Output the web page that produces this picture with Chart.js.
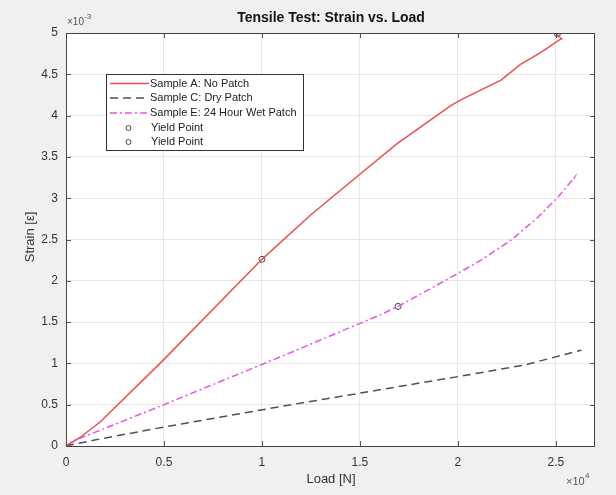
<!DOCTYPE html>
<html>
<head>
<meta charset="utf-8">
<script src="https://cdn.jsdelivr.net/npm/chart.js@4.4.0/dist/chart.umd.min.js"></script>
<style>
  html, body { margin: 0; padding: 0; background: #f0f0f0; }
  #wrap { width: 616px; height: 495px; }
</style>
</head>
<body>
<div id="wrap"><canvas id="chart" width="616" height="495"></canvas></div>
<script>
// load in N, strain in units of 1e-3 (as on the axis)
const loadA   = [0, 700, 1740, 4800, 10000, 12500, 15000, 16900, 19640, 20150, 22200, 23200, 24200, 25200, 25300, 25150, 25050];
const strainA = [0, 0.10, 0.29, 1.00, 2.26, 2.80, 3.29, 3.66, 4.12, 4.19, 4.43, 4.62, 4.76, 4.92, 4.93, 4.96, 4.99];

const loadC   = [0, 1400, 5000, 11000, 16000, 20000, 23400, 26300];
const strainC = [0, 0.07, 0.23, 0.48, 0.68, 0.84, 0.98, 1.16];

const loadE   = [0, 360, 5000, 10950, 16060, 16950, 19100, 20000, 21180, 22700, 24000, 25100, 25950, 25850];
const strainE = [0, 0.06, 0.50, 1.08, 1.59, 1.69, 1.97, 2.09, 2.25, 2.49, 2.75, 3.01, 3.25, 3.20];

const yieldLoad1   = [10000, 25080];
const yieldStrain1 = [2.26, 4.99];
const yieldLoad2   = [16950];
const yieldStrain2 = [1.69];

const xTicks = [0, 5000, 10000, 15000, 20000, 25000];
const yTicks = [0, 0.5, 1, 1.5, 2, 2.5, 3, 3.5, 4, 4.5, 5];

function pts(xs, ys) {
    return xs.map((x, i) => ({ x: x, y: ys[i] }));
}

function lineSet(label, xs, ys, color, dash) {
    return {
        label, data: pts(xs, ys), showLine: true, borderColor: color,
        borderWidth: 1.5, borderDash: dash, pointRadius: 0, fill: false, tension: 0
    };
}

function markerSet(label, xs, ys) {
    return {
        label, data: pts(xs, ys), showLine: false, pointStyle: 'circle',
        pointRadius: 3, borderColor: '#444', backgroundColor: 'rgba(0,0,0,0)', borderWidth: 1
    };
}

const FONT = 'Arial, "Liberation Sans", sans-serif';

const decorations = {
    id: 'decorations',
    beforeDraw(chart) {
        const { ctx, chartArea: a } = chart;
        ctx.save();
        ctx.fillStyle = '#ffffff';
        ctx.fillRect(a.left, a.top, a.right - a.left, a.bottom - a.top);
        ctx.restore();
    },
    afterDraw(chart) {
        const { ctx, chartArea: a, scales } = chart;
        ctx.save();
        // inner tick marks
        ctx.strokeStyle = '#555';
        ctx.lineWidth = 1;
        ctx.beginPath();
        xTicks.forEach(v => {
            const px = Math.round(scales.x.getPixelForValue(v)) + 0.5;
            ctx.moveTo(px, a.bottom); ctx.lineTo(px, a.bottom - 5);
            ctx.moveTo(px, a.top); ctx.lineTo(px, a.top + 5);
        });
        yTicks.forEach(v => {
            const py = Math.round(scales.y.getPixelForValue(v)) + 0.5;
            ctx.moveTo(a.left, py); ctx.lineTo(a.left + 5, py);
            ctx.moveTo(a.right, py); ctx.lineTo(a.right - 5, py);
        });
        ctx.stroke();
        ctx.strokeStyle = '#444';
        ctx.strokeRect(a.left + 0.5, a.top + 0.5, a.right - a.left - 1, a.bottom - a.top);

        // texts
        ctx.fillStyle = '#111';
        ctx.font = 'bold 14px ' + FONT;
        ctx.textAlign = 'center';
        ctx.textBaseline = 'middle';
        ctx.fillText('Tensile Test: Strain vs. Load', 331, 18);

        ctx.fillStyle = '#333';
        ctx.font = '13px ' + FONT;
        ctx.fillText('Load [N]', 331, 479);
        ctx.save();
        ctx.translate(30, 237);
        ctx.rotate(-Math.PI / 2);
        ctx.fillText('Strain [\u03b5]', 0, 0);
        ctx.restore();

        ctx.fillStyle = '#555';
        ctx.font = '10px ' + FONT;
        ctx.textAlign = 'left';
        ctx.fillText('\u00d710', 67, 22);
        ctx.font = '8px ' + FONT;
        ctx.fillText('-3', 84, 17);
        ctx.font = '11px ' + FONT;
        ctx.fillText('\u00d710', 566, 482);
        ctx.font = '8px ' + FONT;
        ctx.fillText('4', 585, 476);

        // legend
        const lx = 106.5, ly = 74.5, lw = 197, lh = 76;
        ctx.fillStyle = '#ffffff';
        ctx.fillRect(lx, ly, lw, lh);
        ctx.strokeStyle = '#333';
        ctx.lineWidth = 1;
        ctx.strokeRect(lx, ly, lw, lh);
        const rows = [83.5, 98, 113, 128, 142];
        ctx.font = '11px ' + FONT;
        ctx.textAlign = 'left';
        ctx.textBaseline = 'middle';
        chart.data.datasets.forEach((ds, i) => {
            const y = rows[i];
            ctx.save();
            if (ds.showLine) {
                ctx.strokeStyle = ds.borderColor;
                ctx.lineWidth = ds.borderWidth;
                ctx.setLineDash(ds.borderDash || []);
                ctx.beginPath();
                ctx.moveTo(110, y); ctx.lineTo(149, y);
                ctx.stroke();
            } else {
                ctx.strokeStyle = ds.borderColor;
                ctx.lineWidth = 1;
                ctx.beginPath();
                ctx.arc(128.5, y, 2.5, 0, Math.PI * 2);
                ctx.stroke();
            }
            ctx.restore();
            ctx.fillStyle = '#222';
            ctx.fillText(ds.label, ds.showLine ? 150 : 151, y);
        });
        ctx.restore();
    }
};

new Chart(document.getElementById('chart'), {
    type: 'scatter',
    data: {
        datasets: [
            lineSet('Sample A: No Patch', loadA, strainA, '#e8504e', []),
            lineSet('Sample C: Dry Patch', loadC, strainC, '#505050', [8, 5]),
            lineSet('Sample E: 24 Hour Wet Patch', loadE, strainE, '#e456e4', [7, 3, 2, 3]),
            markerSet('Yield Point', yieldLoad1, yieldStrain1),
            markerSet('Yield Point', yieldLoad2, yieldStrain2)
        ]
    },
    options: {
        responsive: false,
        animation: false,
        layout: { padding: { top: 33, right: 21, left: 0, bottom: 0 } },
        plugins: { legend: { display: false }, tooltip: { enabled: false }, title: { display: false } },
        scales: {
            x: {
                type: 'linear', min: 0, max: 27000,
                afterBuildTicks: s => { s.ticks = xTicks.map(v => ({ value: v })); },
                afterFit: s => { s.height = 49; },
                grid: { color: '#e6e6e6', drawTicks: false },
                border: { display: false },
                ticks: {
                    padding: 9, color: '#333', font: { size: 12, family: FONT },
                    maxRotation: 0, callback: v => String(v / 10000)
                }
            },
            y: {
                type: 'linear', min: 0, max: 5,
                afterBuildTicks: s => { s.ticks = yTicks.map(v => ({ value: v })); },
                afterFit: s => { s.width = 66; },
                grid: { color: '#e6e6e6', drawTicks: false },
                border: { display: false },
                ticks: {
                    padding: 8, color: '#333', font: { size: 12, family: FONT },
                    callback: v => String(v)
                }
            }
        }
    },
    plugins: [decorations]
});
</script>
</body>
</html>
